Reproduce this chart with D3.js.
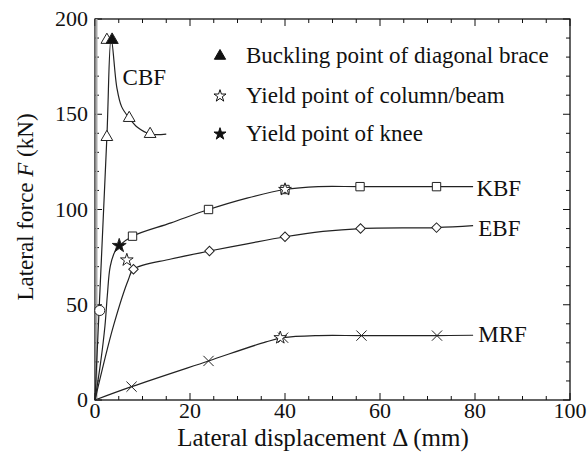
<!DOCTYPE html>
<html>
<head>
<meta charset="utf-8">
<script src="https://cdn.jsdelivr.net/npm/d3@7"></script>
<style>
  body { margin: 0; background: #fff; }
  text { font-family: "Liberation Serif", "DejaVu Serif", serif; fill: #111; }
</style>
</head>
<body>
<div id="chart"></div>
<script>
/* Data (displacement mm, force kN) */
var cbfLine = [[0,0],[2.5,138],[3.4,190],[4.6,164],[5.6,154],[7.2,148],[9,143],[11.6,139.6],[15,139.6]];
var kbfLine = [[0,0],[1.2,20],[2.1,39],[2.6,55],[3.2,70],[4.2,78],[5.1,81],[7.9,86],[16,93],[23.9,100],[32,106],[40,110.5],[47,112],[55.8,112],[71.9,112],[79.6,112]];
var ebfLine = [[0,0],[3.9,39],[7,63],[8.1,68.6],[16,74],[24.1,78.2],[32,82],[40,85.7],[48,88.5],[55.9,90],[71.9,90.5],[79.6,91.5]];
var mrfLine = [[0,0],[7.7,7],[23.9,20.5],[36,30.5],[39.6,32.7],[47,33.8],[56.1,33.8],[72,33.8],[79.6,34]];

var cbfMarks = [[2.5,138],[2.5,189],[7.2,148],[11.6,139.6]];
var kbfMarks = [[7.9,86],[23.9,100],[40,110.5],[55.8,112],[71.9,112]];
var ebfMarks = [[8.1,68.6],[24.1,78.2],[40,85.7],[55.9,90],[71.9,90.5]];
var mrfMarks = [[7.7,7],[23.9,20.5],[39.6,32.7],[56.1,33.8],[72,33.8]];
var circleMarks = [[1.0,47]];
var bucklingPts = [[3.6,189]];
var yieldColPts = [[6.7,73.5],[40,110.5],[39,32.7]];
var yieldKneePts = [[5.1,81]];

var labels = [
  {text: 'CBF', x: 5.8, y: 169},
  {text: 'KBF', x: 80.3, y: 111},
  {text: 'EBF', x: 80.7, y: 90},
  {text: 'MRF', x: 80.7, y: 34}
];
var legendItems = ['Buckling point of diagonal brace', 'Yield point of column/beam', 'Yield point of knee'];
var xTicks = [0, 20, 40, 60, 80, 100];
var yTicks = [0, 50, 100, 150, 200];

/* Layout */
var W = 588, H = 452;
var m = {left: 95, right: 18, top: 19, bottom: 52};

var svg = d3.select('#chart').append('svg')
    .attr('width', W)
    .attr('height', H);

var x = d3.scaleLinear().domain([0, 100]).range([m.left, W - m.right]);
var y = d3.scaleLinear().domain([0, 200]).range([H - m.bottom, m.top]);

/* Ticks (inward on all four sides) */
var g = svg.append('g').attr('stroke', '#111').attr('stroke-width', 1);
d3.range(0, 101, 5).forEach(function(v){
  var len = (v % 20 === 0) ? 7 : 4;
  g.append('line').attr('x1', x(v)).attr('x2', x(v)).attr('y1', y(0)).attr('y2', y(0) - len);
  g.append('line').attr('x1', x(v)).attr('x2', x(v)).attr('y1', y(200)).attr('y2', y(200) + len);
});
d3.range(0, 201, 10).forEach(function(v){
  var len = (v % 50 === 0) ? 7 : 4;
  g.append('line').attr('x1', x(0)).attr('x2', x(0) + len).attr('y1', y(v)).attr('y2', y(v));
  g.append('line').attr('x1', x(100)).attr('x2', x(100) - len).attr('y1', y(v)).attr('y2', y(v));
});

// Frame
svg.append('rect')
    .attr('x', x(0)).attr('y', y(200))
    .attr('width', x(100) - x(0)).attr('height', y(0) - y(200))
    .attr('fill', 'none').attr('stroke', '#111').attr('stroke-width', 1.3);
svg.append('line')
    .attr('x1', x(0) + 1.5).attr('x2', x(0) + 1.5).attr('y1', y(0)).attr('y2', y(200))
    .attr('stroke', '#aaa').attr('stroke-width', 2);

// Tick labels
svg.selectAll('.xl').data(xTicks).enter().append('text')
    .attr('x', function(d){ return x(d); })
    .attr('y', y(0) + 18)
    .attr('text-anchor', 'middle')
    .style('font-size', '22px')
    .text(function(d){ return d; });
svg.selectAll('.yl').data(yTicks).enter().append('text')
    .attr('x', x(0) - 7)
    .attr('y', function(d){ return y(d) + 7; })
    .attr('text-anchor', 'end')
    .style('font-size', '22px')
    .text(function(d){ return d; });

// Axis titles
svg.append('text')
    .attr('x', 323).attr('y', 446)
    .attr('text-anchor', 'middle')
    .style('font-size', '25px')
    .text('Lateral displacement \u0394 (mm)');
var yt = svg.append('text')
    .attr('transform', 'translate(33,207) rotate(-90)')
    .attr('text-anchor', 'middle')
    .style('font-size', '23px');
yt.append('tspan').text('Lateral force ');
yt.append('tspan').style('font-style', 'italic').text('F');
yt.append('tspan').text(' (kN)');

/* Curves */
var line = d3.line()
    .x(function(d){ return x(d[0]); })
    .y(function(d){ return y(d[1]); })
    .curve(d3.curveCatmullRom.alpha(0.5));

[cbfLine, kbfLine, ebfLine, mrfLine].forEach(function(s){
  svg.append('path').datum(s)
      .attr('d', line)
      .attr('fill', 'none')
      .attr('stroke', '#222')
      .attr('stroke-width', 1.2);
});

/* Markers */
function marks(data, type, size, fill, rot){
  svg.selectAll(null).data(data).enter().append('path')
      .attr('d', d3.symbol().type(type).size(size))
      .attr('transform', function(d){ return 'translate(' + x(d[0]) + ',' + y(d[1]) + ')' + (rot ? ' rotate(' + rot + ')' : ''); })
      .attr('fill', fill)
      .attr('stroke', '#222')
      .attr('stroke-width', 1);
}
var xSym = d3.symbolX || {draw: function(c, s){ var r = Math.sqrt(s) / 2; c.moveTo(-r,-r); c.lineTo(r,r); c.moveTo(r,-r); c.lineTo(-r,r); }};

marks(circleMarks, d3.symbolCircle, 80, '#fff');
marks(cbfMarks, d3.symbolTriangle, 60, '#fff');
marks(kbfMarks, d3.symbolSquare, 70, '#fff');
marks(ebfMarks, d3.symbolSquare, 45, '#fff', 45);
marks(mrfMarks, xSym, 70, 'none');
marks(bucklingPts, d3.symbolTriangle, 65, '#111');
marks(yieldColPts, d3.symbolStar, 50, '#fff');
marks(yieldKneePts, d3.symbolStar, 60, '#111');

/* Curve labels */
svg.selectAll('.lab').data(labels).enter().append('text')
    .attr('x', function(d){ return x(d.x); })
    .attr('y', function(d){ return y(d.y) + 7; })
    .style('font-size', '23px')
    .text(function(d){ return d.text; });

/* Legend */
var legSyms = [
  {type: d3.symbolTriangle, fill: '#111', size: 55},
  {type: d3.symbolStar, fill: '#fff', size: 45},
  {type: d3.symbolStar, fill: '#111', size: 45}
];
var legY = [56, 96, 134];
legendItems.forEach(function(t, i){
  svg.append('path')
      .attr('d', d3.symbol().type(legSyms[i].type).size(legSyms[i].size))
      .attr('transform', 'translate(220,' + legY[i] + ')')
      .attr('fill', legSyms[i].fill)
      .attr('stroke', '#111');
  svg.append('text')
      .attr('x', 246).attr('y', legY[i] + 7)
      .style('font-size', '23px')
      .text(t);
});
</script>
</body>
</html>
